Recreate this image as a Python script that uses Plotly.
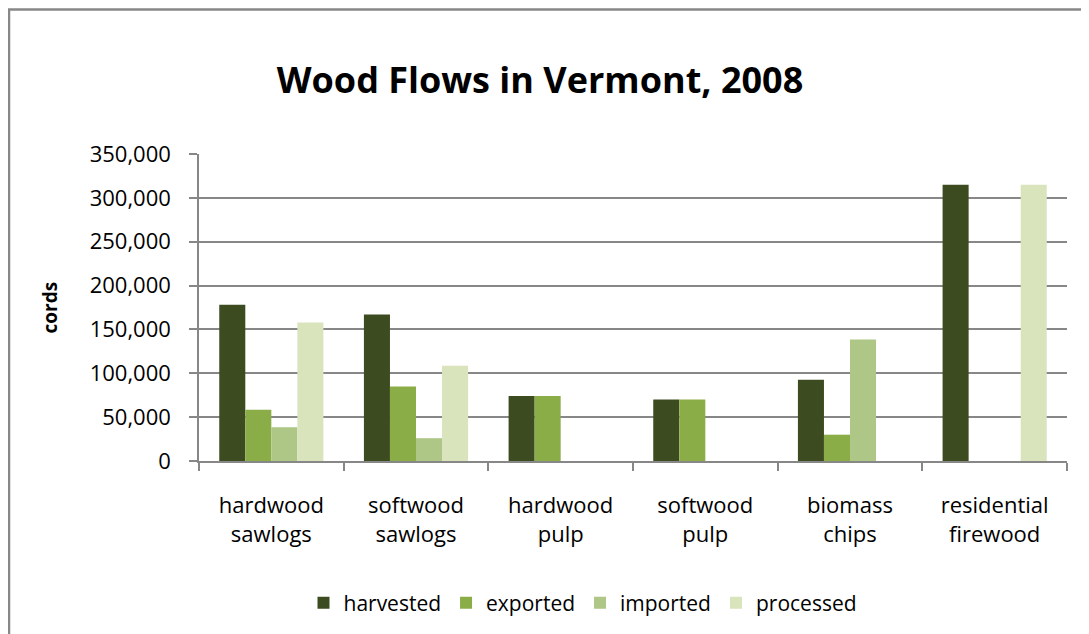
import plotly.graph_objects as go

categories = ["hardwood<br>sawlogs", "softwood<br>sawlogs", "hardwood<br>pulp",
              "softwood<br>pulp", "biomass<br>chips", "residential<br>firewood"]
harvested = [178000, 167000, 74000, 70000, 92500, 315000]
exported = [58500, 85000, 74000, 70000, 30000, 0]
imported = [38500, 26000, 0, 0, 138500, 0]
processed = [158000, 108500, 0, 0, 0, 315000]

series = [
    ("harvested", harvested, "#3D4B20"),
    ("exported", exported, "#8BAD48"),
    ("imported", imported, "#AEC686"),
    ("processed", processed, "#D9E4BD"),
]

FONT = "Open Sans"
OFF = 8  # page body margin
W, H = 1089 - OFF, 634 - OFF
# plot area in page pixels: x 199..1067, y 154..462
L, R, T, B = 199 - OFF, 1089 - 1067, 154 - OFF, 634 - 462
PW, PH = W - L - R, H - T - B

def px(x):
    return (x - OFF - L) / PW

def py(y):
    return (H - B - (y - OFF)) / PH

fig = go.Figure()
for name, vals, col in series:
    fig.add_trace(go.Bar(name=name, x=categories, y=vals, marker_color=col,
                         marker_line_width=0))

fig.update_layout(
    width=W, height=H,
    margin=dict(l=L, r=R, t=T, b=B),
    paper_bgcolor="white", plot_bgcolor="white",
    barmode="group", bargap=0.28, bargroupgap=0,
    font=dict(family=FONT, color="black", size=22),
    title=dict(text="<b>Wood Flows in Vermont, 2008</b>", x=(540 - OFF) / W, xanchor="center",
               xref="container", yref="container", y=1 - (80 - OFF) / H, yanchor="middle",
               font=dict(size=36, family=FONT, color="black")),
    showlegend=True,
    legend=dict(orientation="h", x=px(583), xanchor="center", y=py(603), yanchor="middle",
                font=dict(size=21, family=FONT), traceorder="normal",
                itemwidth=30, tracegroupgap=0),
)
fig.update_yaxes(range=[0, 350000], tickvals=[0, 50000, 100000, 150000, 200000, 250000, 300000, 350000],
                 tickformat=",d", showgrid=True, gridcolor="#878787", gridwidth=1.5,
                 showline=True, linecolor="#878787", linewidth=1.5,
                 ticks="outside", ticklen=8, tickcolor="#878787", tickwidth=1.5,
                 ticklabelstandoff=14, zeroline=False,
                 tickfont=dict(size=22, family=FONT))
fig.update_xaxes(showline=True, linecolor="#878787", linewidth=1.5,
                 ticks="outside", tickson="boundaries", ticklen=8, tickcolor="#878787",
                 tickwidth=1.5, ticklabelstandoff=24,
                 tickfont=dict(size=22, family=FONT))

fig.add_annotation(text="<b>cords</b>", textangle=-90, xref="paper", yref="paper",
                   x=px(49), y=py(308), showarrow=False, xanchor="center", yanchor="middle",
                   font=dict(size=19, family=FONT, color="black"))

# chart outer border (left and top edges visible)
fig.add_shape(type="path", xref="paper", yref="paper",
              path=f"M {px(9)} {py(660)} L {px(9)} {py(9)} L {px(1100)} {py(9)}",
              line=dict(color="#888888", width=2.5), layer="above")

fig.write_html("out.html")
